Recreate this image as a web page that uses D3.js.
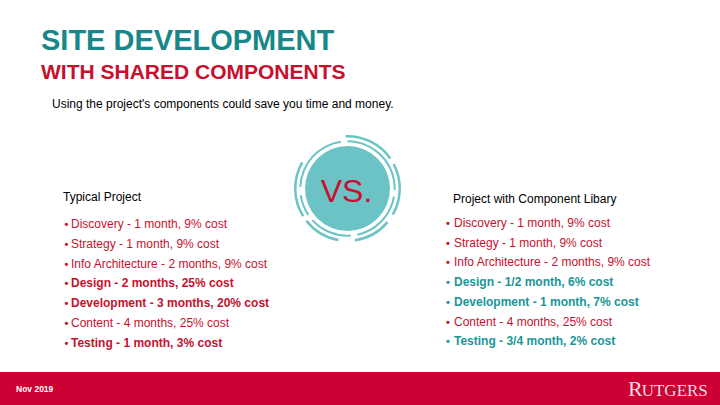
<!DOCTYPE html>
<html><head><meta charset="utf-8">
<script src="https://cdn.jsdelivr.net/npm/d3@7/dist/d3.min.js"></script>
<style>
html,body{margin:0;padding:0;background:#fff;}
svg{display:block;font-family:"Liberation Sans",Arial,sans-serif;}
</style></head>
<body>
<svg id="chart" width="720" height="405"></svg>
<script>
// ---- data ----
const phases = ["Discovery","Strategy","Info Architecture","Design","Development","Content","Testing"];
const typicalDuration = ["1 month","1 month","2 months","2 months","3 months","4 months","1 month"];
const typicalCost = [9,9,9,25,20,25,3];
const typicalHighlight = [false,false,false,true,true,false,true];
const libraryDuration = ["1 month","1 month","2 months","1/2 month","1 month","4 months","3/4 month"];
const libraryCost = [9,9,9,6,7,25,2];
const libraryChanged = [false,false,false,true,true,false,true];
const columnTitles = ["Typical Project","Project with Component Libary"];

const RED = "#c8102e", TEAL = "#17878a", TEAL2 = "#1b9597", CIRC = "#6cc3c5", BAND = "#cc0033";

const svg = d3.select("#chart");

// Titles
svg.append("text").attr("x",41).attr("y",50).attr("fill",TEAL)
  .attr("font-size",29).attr("font-weight","bold").text("SITE DEVELOPMENT");
svg.append("text").attr("x",41).attr("y",78.5).attr("fill",RED)
  .attr("font-size",21).attr("font-weight","bold").text("WITH SHARED COMPONENTS");
svg.append("text").attr("x",52).attr("y",108).attr("fill","#000")
  .attr("font-size",12).text("Using the project's components could save you time and money.");

// Lists
function rows(duration,cost){ return phases.map((p,i)=>`${p} - ${duration[i]}, ${cost[i]}% cost`); }
const cols = [
  {x:63, titleY:201, y0:228, step:19.8, bx:64.5, tx:71, labels:rows(typicalDuration,typicalCost), bold:typicalHighlight, teal:phases.map(()=>false)},
  {x:453, titleY:203, y0:227, step:19.7, bx:446, tx:454, labels:rows(libraryDuration,libraryCost), bold:libraryChanged, teal:libraryChanged}
];
cols.forEach((c,ci)=>{
  svg.append("text").attr("x",c.x).attr("y",c.titleY).attr("font-size",12).attr("fill","#000").text(columnTitles[ci]);
  const y = d3.scaleLinear().domain([0,1]).range([c.y0,c.y0+c.step]);
  const g = svg.append("g");
  const t = g.selectAll("text.item").data(c.labels).join("text")
    .attr("class","item")
    .attr("x",c.bx).attr("y",(d,i)=>y(i))
    .attr("font-size",12)
    .attr("font-weight",(d,i)=>c.bold[i]?"bold":"normal")
    .attr("fill",(d,i)=>c.teal[i]?TEAL2:RED);
  t.append("tspan").attr("font-size",11).attr("font-weight","bold").text("•");
  t.append("tspan").attr("x",c.tx).text(d=>d);
});

// VS circle
const cx=347.5, cy=188.5;
const vs = svg.append("g").attr("transform",`translate(${cx},${cy})`);
vs.append("circle").attr("r",42.5).attr("fill",CIRC);
const deg = Math.PI/180;
const innerArcs = [[-88,-8],[0,92],[100,168],[176,228],[236,262]];
const outerArcs = [[-2,55],[62,120],[130,172],[190,232],[238,300]];
const arcGen = d3.arc();
vs.selectAll("path.in").data(innerArcs).join("path").attr("class","in")
  .attr("d",d=>arcGen({innerRadius:46.2,outerRadius:48.2,startAngle:d[0]*deg,endAngle:d[1]*deg}))
  .attr("fill",CIRC);
vs.selectAll("path.out").data(outerArcs).join("path").attr("class","out")
  .attr("d",d=>arcGen({innerRadius:51,outerRadius:53.5,startAngle:d[0]*deg,endAngle:d[1]*deg}))
  .attr("fill",CIRC);
vs.append("text").attr("x",-1).attr("y",13.5).attr("text-anchor","middle")
  .attr("font-size",32).attr("fill",RED).text("VS.");

// Footer band
svg.append("rect").attr("x",0).attr("y",372).attr("width",720).attr("height",33).attr("fill",BAND);
svg.append("text").attr("x",16).attr("y",392).attr("font-size",8.5).attr("font-weight","bold")
  .attr("fill","#fff").text("Nov 2019");
const rt = svg.append("text").attr("x",628).attr("y",396)
  .attr("font-family","'Liberation Serif','Times New Roman',serif").attr("fill","#f3dbe1");
rt.append("tspan").attr("font-size",22).text("R");
rt.append("tspan").attr("font-size",17).attr("dx",-1).text("UTGERS");
</script>
</body></html>
